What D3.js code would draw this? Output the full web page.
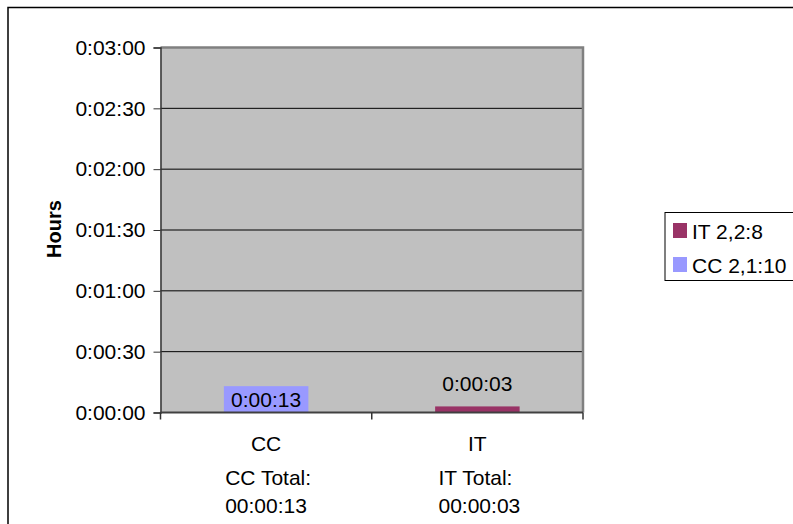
<!DOCTYPE html>
<html>
<head>
<meta charset="utf-8">
<script src="https://cdn.jsdelivr.net/npm/d3@7"></script>
<style>
  body { margin: 0; background: #fff; }
  text { font-family: "Liberation Sans", Arial, sans-serif; }
</style>
</head>
<body>
<svg width="793" height="524"></svg>
<script>
const categories = ['CC', 'IT'];
const categoryTotals = ['CC Total:', 'IT Total:'];
const categoryTotalValues = ['00:00:13', '00:00:03'];
const seriesNames = ['IT 2,2:8', 'CC 2,1:10'];
const seriesColors = ['#993366', '#9999FF'];
// seconds per category
const itValues = [0, 3];
const ccValues = [13, 0];
const yTicks = [0, 30, 60, 90, 120, 150, 180];
const labelModes = ['outside', 'center'];

const svg = d3.select('svg');
const width = +svg.attr('width');
const height = +svg.attr('height');
const fontSize = 21;

const margin = { top: 47.5, left: 160.5, right: 210, bottom: 111.5 };
const innerWidth = width - margin.left - margin.right;
const innerHeight = height - margin.top - margin.bottom;

// outer chart border
svg.append('rect')
    .attr('x', 8).attr('y', 7.5)
    .attr('width', 820).attr('height', 560)
    .attr('fill', 'none')
    .attr('stroke', '#000')
    .attr('stroke-width', 1.5);

const g = svg.append('g')
    .attr('transform', `translate(${margin.left},${margin.top})`);

const xScale = d3.scaleBand()
    .domain(categories)
    .range([0, innerWidth])
    .padding(0);

const yScale = d3.scaleLinear()
    .domain([0, 180])
    .range([innerHeight, 0]);

const fmt = s => {
    const m = Math.floor(s / 60), sec = s % 60;
    return `0:${String(m).padStart(2, '0')}:${String(sec).padStart(2, '0')}`;
};

g.append('rect')
    .attr('width', innerWidth)
    .attr('height', innerHeight)
    .attr('fill', '#C0C0C0');

// gridlines
g.selectAll('.grid').data(yTicks.filter(t => t > 0 && t < 180))
    .enter().append('line')
    .attr('x1', 0).attr('x2', innerWidth)
    .attr('y1', d => yScale(d)).attr('y2', d => yScale(d))
    .attr('stroke', '#000').attr('stroke-width', 1);

// top and right plot border
g.append('path')
    .attr('d', `M0,${yScale(180)}H${innerWidth}V${innerHeight}`)
    .attr('fill', 'none')
    .attr('stroke', '#808080')
    .attr('stroke-width', 2.5);

// stacked bars
const series = [
    { name: seriesNames[0], color: seriesColors[0], values: itValues, mode: labelModes[0] },
    { name: seriesNames[1], color: seriesColors[1], values: ccValues, mode: labelModes[1] }
];
const stackData = categories.map((c, i) => ({ cat: c, it: itValues[i], cc: ccValues[i] }));
const stacked = d3.stack().keys(['it', 'cc'])(stackData);

const barW = xScale.bandwidth() * 0.4;
stacked.forEach((layer, si) => {
    const s = series[si];
    layer.forEach(d => {
        if (d[1] - d[0] <= 0) return;
        const x = xScale(d.data.cat) + (xScale.bandwidth() - barW) / 2;
        g.append('rect')
            .attr('x', x)
            .attr('y', yScale(d[1]))
            .attr('width', barW)
            .attr('height', yScale(d[0]) - yScale(d[1]))
            .attr('fill', s.color);
        const v = d[1] - d[0];
        const ly = s.mode === 'center'
            ? (yScale(d[0]) + yScale(d[1])) / 2 + 7.5
            : yScale(d[1]) - 15;
        g.append('text')
            .attr('x', xScale(d.data.cat) + xScale.bandwidth() / 2)
            .attr('y', ly)
            .attr('text-anchor', 'middle')
            .attr('font-size', fontSize)
            .attr('fill', '#000')
            .text(fmt(v));
    });
});

// y axis
const yAxis = d3.axisLeft(yScale)
    .tickValues(yTicks)
    .tickFormat(fmt)
    .tickSize(7)
    .tickPadding(8);

const yAxisG = g.append('g').call(yAxis);
yAxisG.select('.domain').attr('stroke', '#333').attr('stroke-width', 1.5);
yAxisG.selectAll('.tick line').attr('stroke', '#333');
yAxisG.selectAll('.tick text')
    .attr('font-size', fontSize)
    .attr('fill', '#000')
    .attr('font-family', '"Liberation Sans", Arial, sans-serif');

// x axis
const xAxisG = g.append('g').attr('transform', `translate(0,${innerHeight})`);
xAxisG.append('line')
    .attr('x1', 0).attr('x2', innerWidth)
    .attr('stroke', '#404040').attr('stroke-width', 2);
const xTickPos = [0, ...categories.map(c => xScale(c) + xScale.bandwidth())];
xAxisG.selectAll('.xt').data(xTickPos)
    .enter().append('line')
    .attr('x1', d => d).attr('x2', d => d)
    .attr('y1', 0).attr('y2', 7)
    .attr('stroke', '#333').attr('stroke-width', 1.5);

categories.forEach((c, i) => {
    const cx = xScale(c) + xScale.bandwidth() / 2;
    xAxisG.append('text')
        .attr('x', cx).attr('y', 38)
        .attr('text-anchor', 'middle')
        .attr('font-size', fontSize)
        .text(c);
    const l2 = xAxisG.append('text')
        .attr('y', 72.5).attr('font-size', fontSize).text(categoryTotals[i]);
    const l3 = xAxisG.append('text')
        .attr('y', 100).attr('font-size', fontSize).text(categoryTotalValues[i]);
    const w = Math.max(l2.node().getComputedTextLength(), l3.node().getComputedTextLength());
    l2.attr('x', cx - w / 2 + 2);
    l3.attr('x', cx - w / 2 + 2);
});

// y axis title
svg.append('text')
    .attr('transform', `translate(61,229) rotate(-90)`)
    .attr('text-anchor', 'middle')
    .attr('font-size', 20)
    .attr('font-weight', 'bold')
    .text('Hours');

// legend
const legend = svg.append('g').attr('transform', 'translate(665,212.5)');
legend.append('rect')
    .attr('width', 160).attr('height', 68)
    .attr('fill', '#fff')
    .attr('stroke', '#000').attr('stroke-width', 1);
series.forEach((s, i) => {
    const row = legend.append('g').attr('transform', `translate(8,${10.5 + i * 34})`);
    row.append('rect').attr('width', 14).attr('height', 15).attr('fill', s.color);
    row.append('text')
        .attr('x', 19).attr('y', 15.5)
        .attr('font-size', fontSize)
        .text(s.name);
});
</script>
</body>
</html>
